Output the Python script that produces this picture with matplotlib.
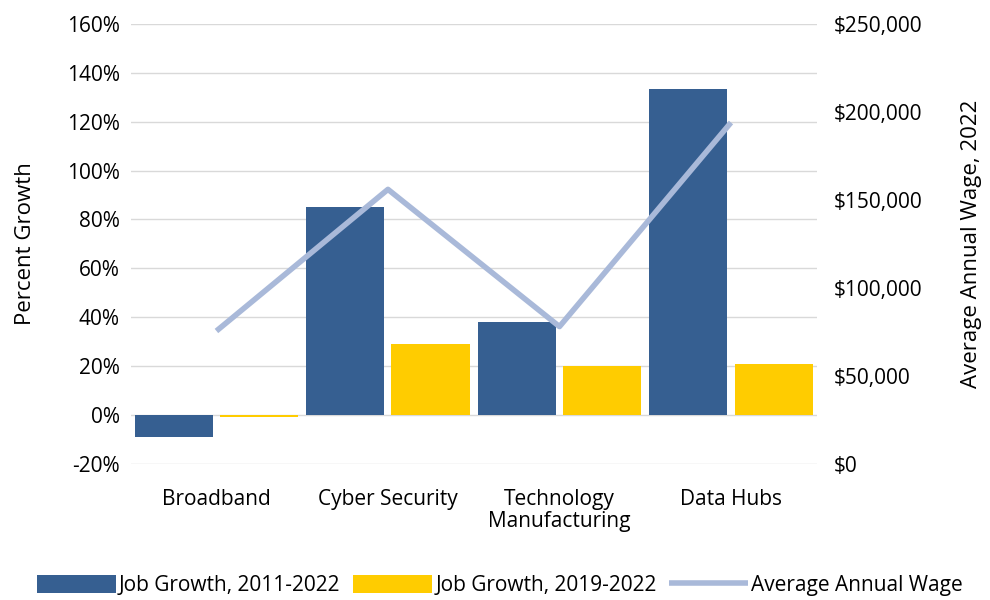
import numpy as np
import matplotlib.pyplot as plt
from matplotlib.ticker import FuncFormatter

plt.rcParams['font.family'] = ['Open Sans', 'DejaVu Sans']

categories = ['Broadband', 'Cyber Security', 'Technology\nManufacturing', 'Data Hubs']
growth_2011_2022 = [-9, 85, 38, 133.5]
growth_2019_2022 = [-1, 29, 20, 21]
avg_wage = [75500, 156000, 78000, 194000]

fig = plt.figure(figsize=(9.9, 6.0), dpi=100)
ax = fig.add_axes([0.132, 0.227, 0.693, 0.733])
ax2 = ax.twinx()

x = np.arange(len(categories))
w = 0.455
ax.bar(x - 0.248, growth_2011_2022, w, color='#365F91', label='Job Growth, 2011-2022', zorder=2)
ax.bar(x + 0.248, growth_2019_2022, w, color='#FFCC00', label='Job Growth, 2019-2022', zorder=2)
ax2.plot(x, avg_wage, color='#A9B9D9', lw=4, label='Average Annual Wage', solid_capstyle='butt')

ax.set_xlim(-0.5, 3.5)
ax.set_ylim(-20, 160)
ax.set_yticks(np.arange(-20, 161, 20))
ax.yaxis.set_major_formatter(FuncFormatter(lambda v, p: '%d%%' % v))
ax.grid(axis='y', color='#D9D9D9', lw=1, zorder=0)
ax.set_axisbelow(True)
ax.set_xticks(x)
ax.set_xticklabels(categories, linespacing=1.1)
ax.set_ylabel('Percent Growth', fontsize=16, labelpad=22)

ax2.set_ylim(0, 250000)
ax2.set_yticks(np.arange(0, 250001, 50000))
ax2.yaxis.set_major_formatter(FuncFormatter(lambda v, p: '${:,.0f}'.format(v)))
ax2.set_ylabel('Average Annual Wage, 2022', fontsize=16, labelpad=28)

for a in (ax, ax2):
    for s in a.spines.values():
        s.set_visible(False)
    a.tick_params(length=0, labelsize=15, colors='#000000', pad=12)
ax.tick_params(axis='y', pad=8)
ax.tick_params(axis='x', pad=18)

h1, l1 = ax.get_legend_handles_labels()
h2, l2 = ax2.get_legend_handles_labels()
fig.legend(h1 + h2, l1 + l2, loc='lower center', bbox_to_anchor=(0.505, -0.025), ncol=3,
           frameon=False, fontsize=15, handlelength=3.8, handleheight=1.0,
           handletextpad=0.15, columnspacing=0.6)

fig.savefig('out.png', dpi=100)
